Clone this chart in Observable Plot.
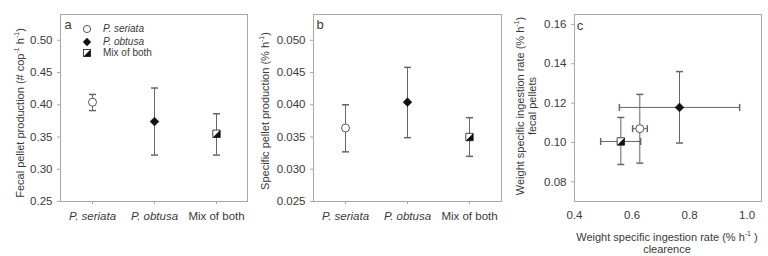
<!DOCTYPE html>
<html><head><meta charset="utf-8">
<script src="https://cdn.jsdelivr.net/npm/d3@7"></script>
<script src="https://cdn.jsdelivr.net/npm/@observablehq/plot@0.6"></script>
<style>
body{margin:0;background:#fff;}
#wrap{position:relative;width:768px;height:256px;font-family:"Liberation Sans",Arial,sans-serif;color:#3a3a3a;-webkit-font-smoothing:antialiased;}
.panel{position:absolute;top:0;}
.lab{position:absolute;white-space:nowrap;font-size:11px;line-height:11px;text-align:center;color:#3a3a3a;}
.rot{transform:translate(-50%,-50%) rotate(-90deg);}
.ctr{transform:translate(-50%,-50%);}
sup{font-size:7px;vertical-align:5px;line-height:0;}
.leg{position:absolute;font-size:10px;white-space:nowrap;color:#3a3a3a;}
</style></head>
<body><div id="wrap"></div>
<script>
// ---- data ----
const species = ["P. seriata", "P. obtusa", "Mix of both"];
const fppMean = [0.404, 0.374, 0.355];
const fppLo   = [0.391, 0.322, 0.322];
const fppHi   = [0.416, 0.426, 0.386];
const sppMean = [0.0364, 0.0404, 0.0350];
const sppLo   = [0.0327, 0.0349, 0.0320];
const sppHi   = [0.0400, 0.0458, 0.0380];
const clrMean = [0.627, 0.765, 0.561];
const clrLo   = [0.602, 0.556, 0.491];
const clrHi   = [0.653, 0.974, 0.630];
const fecMean = [0.107, 0.1178, 0.1005];
const fecLo   = [0.0895, 0.0997, 0.0888];
const fecHi   = [0.1244, 0.136, 0.1127];
const ticksA = [0.25, 0.30, 0.35, 0.40, 0.45, 0.50];
const ticksB = [0.025, 0.030, 0.035, 0.040, 0.045, 0.050];
const ticksCy = [0.08, 0.10, 0.12, 0.14, 0.16];
const ticksCx = [0.4, 0.6, 0.8, 1.0];

// ---- symbols ----
const capH = {draw(c){c.moveTo(-3.5,0);c.lineTo(3.5,0);}};
const capV = {draw(c){c.moveTo(0,-3.5);c.lineTo(0,3.5);}};
const circ = {draw(c){c.moveTo(4,0);c.arc(0,0,4,0,2*Math.PI);}};
const diam = {draw(c){c.moveTo(0,-4.4);c.lineTo(4.4,0);c.lineTo(0,4.4);c.lineTo(-4.4,0);c.closePath();}};
const sq   = {draw(c){c.rect(-3.7,-3.7,7.4,7.4);}};
const tri  = {draw(c){c.moveTo(3.7,-3.7);c.lineTo(3.7,3.7);c.lineTo(-3.7,3.7);c.closePath();}};

const rows = (m, lo, hi) => species.map((s,i)=>({cat:s, m:m[i], lo:lo[i], hi:hi[i]}));
const FONT = '"Liberation Sans",Arial,sans-serif';
const TXT = "#3a3a3a", FRAME = "#a8a8a8", ERR = "#666";

function markers(data, xk, yk){
  const ser = data.filter((d,i)=>i===0), obt = data.filter((d,i)=>i===1), mix = data.filter((d,i)=>i===2);
  return [
    Plot.dot(ser,{x:xk,y:yk,symbol:circ,fill:"white",stroke:"#444",strokeWidth:0.9}),
    Plot.dot(obt,{x:xk,y:yk,symbol:diam,fill:"#111",stroke:"#111",strokeWidth:0.6}),
    Plot.dot(mix,{x:xk,y:yk,symbol:sq,fill:"white",stroke:"#333",strokeWidth:0.9}),
    Plot.dot(mix,{x:xk,y:yk,symbol:tri,fill:"#111",stroke:"none"})
  ];
}

function catPanel(data, dom, ticks, fmt, ml, mr){
  const svg = Plot.plot({
    width:256, height:256, marginLeft:ml, marginRight:mr, marginTop:14, marginBottom:55,
    style:{fontFamily:FONT, fontSize:"11.5px", color:TXT, background:"transparent", overflow:"visible"},
    x:{type:"point", domain:species, padding:0.5},
    y:{domain:dom},
    marks:[
      Plot.frame({stroke:FRAME}),
      Plot.axisY({ticks, tickFormat:fmt, tickSize:3, tickPadding:5, stroke:FRAME, fill:TXT, label:null}),
      Plot.axisX({tickSize:3, tickPadding:7, stroke:FRAME, fill:TXT, label:null}),
      Plot.ruleX(data,{x:"cat", y1:"lo", y2:"hi", stroke:ERR}),
      Plot.dot(data,{x:"cat", y:"lo", symbol:capH, stroke:ERR}),
      Plot.dot(data,{x:"cat", y:"hi", symbol:capH, stroke:ERR}),
      ...markers(data,"cat","m")
    ]
  });
  d3.select(svg).selectAll('g[aria-label="x-axis tick label"] text').each(function(){
    if (this.textContent.startsWith("P.")) this.setAttribute("font-style","italic");
  });
  return svg;
}

const wrap = document.getElementById("wrap");
function place(svg, left){
  const d = document.createElement("div"); d.className="panel"; d.style.left=left+"px"; d.appendChild(svg); wrap.appendChild(d);
}
function label(html, x, y, cls){
  const d = document.createElement("div"); d.className="lab "+cls; d.style.left=x+"px"; d.style.top=y+"px"; d.innerHTML=html; wrap.appendChild(d); return d;
}

place(catPanel(rows(fppMean,fppLo,fppHi), [0.25,0.54], ticksA, d3.format(".2f"), 60, 9), 0);
place(catPanel(rows(sppMean,sppLo,sppHi), [0.025,0.054], ticksB, d3.format(".3f"), 57, 11), 256);

// panel c
const cData = species.map((s,i)=>({cat:s, x:clrMean[i], xlo:clrLo[i], xhi:clrHi[i], y:fecMean[i], ylo:fecLo[i], yhi:fecHi[i]}));
const svgC = Plot.plot({
  width:256, height:256, marginLeft:62, marginRight:7, marginTop:14, marginBottom:55,
  style:{fontFamily:FONT, fontSize:"11.5px", color:TXT, background:"transparent", overflow:"visible"},
  x:{domain:[0.4,1.05]},
  y:{domain:[0.07,0.165]},
  marks:[
    Plot.frame({stroke:FRAME}),
    Plot.axisY({ticks:ticksCy, tickFormat:d3.format(".2f"), tickSize:3, tickPadding:5, stroke:FRAME, fill:TXT, label:null}),
    Plot.axisX({ticks:ticksCx, tickFormat:d3.format(".1f"), tickSize:0, tickPadding:9, stroke:FRAME, fill:TXT, label:null}),
    Plot.ruleX(cData,{x:"x", y1:"ylo", y2:"yhi", stroke:ERR}),
    Plot.ruleY(cData,{y:"y", x1:"xlo", x2:"xhi", stroke:ERR}),
    Plot.dot(cData,{x:"x", y:"ylo", symbol:capH, stroke:ERR}),
    Plot.dot(cData,{x:"x", y:"yhi", symbol:capH, stroke:ERR}),
    Plot.dot(cData,{x:"xlo", y:"y", symbol:capV, stroke:ERR}),
    Plot.dot(cData,{x:"xhi", y:"y", symbol:capV, stroke:ERR}),
    ...markers(cData,"x","y")
  ]
});
place(svgC, 512);

// axis titles
label('Fecal pellet production (# cop<sup>-1</sup> h<sup>-1</sup>)', 20, 113, "rot");
label('Specific pellet production (% h<sup>-1</sup>)', 265, 111, "rot");
label('Weight specific ingestion rate (% h<sup>-1</sup>)<br>fecal pellets', 526, 106, "rot").style.lineHeight="12px";
label('Weight specific ingestion rate (% h<sup>-1</sup> )<br>clearence', 667, 243, "ctr").style.lineHeight="12px";
// panel letters
label('a', 68, 24, "ctr").style.fontSize="13px";
label('b', 320, 24, "ctr").style.fontSize="13px";
label('c', 580, 25, "ctr").style.fontSize="13px";

// legend (panel a)
const legSyms = [
  '<circle cx="5" cy="5" r="3.6" fill="white" stroke="#444" stroke-width="0.9"/>',
  '<path d="M5,0.8L9.2,5L5,9.2L0.8,5Z" fill="#111"/>',
  '<rect x="1.5" y="1.5" width="7" height="7" fill="white" stroke="#333" stroke-width="0.9"/><path d="M8.5,1.5L8.5,8.5L1.5,8.5Z" fill="#111"/>'
];
const legY = [29.3, 42, 53.3];
species.forEach((s,i)=>{
  const g = document.createElement("div"); g.className="leg";
  g.style.left="82px"; g.style.top=(legY[i]-6)+"px";
  g.innerHTML = '<svg width="10" height="10" style="position:absolute;left:0;top:1px">'+legSyms[i]+'</svg><span style="position:absolute;left:21px;top:0;'+(s.startsWith("P.")?'font-style:italic;':'')+'">'+s+'</span>';
  wrap.appendChild(g);
});
</script></body></html>
